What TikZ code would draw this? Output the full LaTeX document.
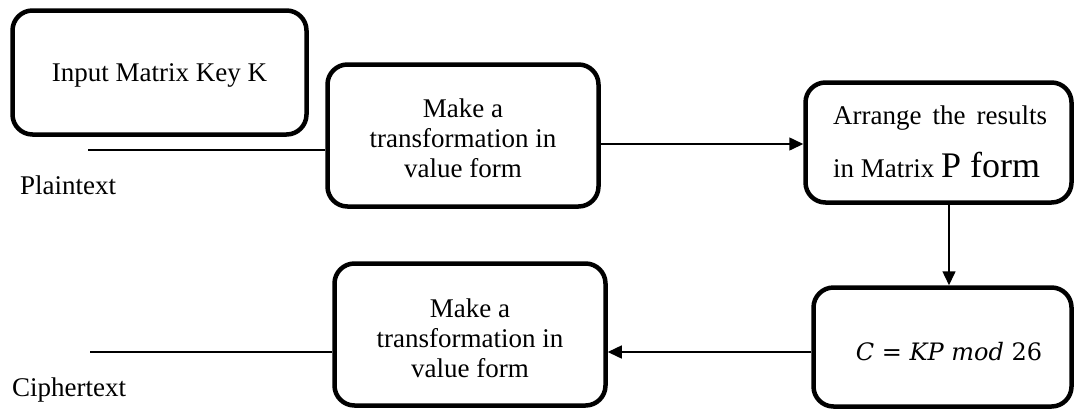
\documentclass[tikz,border=0pt]{standalone}
\usepackage{fontspec}
\setmainfont{Liberation Serif}
\newfontfamily\mathlike{DejaVu Serif}
\usetikzlibrary{arrows.meta}
\begin{document}
\begin{tikzpicture}[x=1pt,y=-1pt,
  box/.style={draw=black,line width=4.5pt,rounded corners=20pt,inner sep=0pt,align=center},
  conn/.style={line width=1.5pt},
  arr/.style={conn,-{Triangle[length=14pt,width=13pt]}},
  lbl/.style={anchor=base west,inner sep=0pt},
  every node/.append style={font=\fontsize{27}{30}\selectfont}]
\useasboundingbox (0,0) rectangle (1075,408);
\node[box,minimum width=294pt,minimum height=124pt] (b1) at (159.5,72.5) {};
\node at (159.5,75) {Input Matrix Key K};
\node[box,minimum width=271pt,minimum height=142pt] (b2) at (463,135.5) {};
\node[align=center] (t2) at (463,138) {Make a\\transformation in\\value form};
\node[box,minimum width=266pt,minimum height=120pt] (b3) at (938.5,142.5) {};
\node[align=left,anchor=north west,inner sep=0pt] (t3) at (833,106) {\makebox[214pt][s]{Arrange the results}\\[20pt]in Matrix {\fontsize{36}{36}\selectfont P form}};
\node[box,minimum width=258pt,minimum height=119pt] (b4) at (942.5,347) {};
\node (t4) at (949,352) {\mathlike\fontsize{24}{28}\selectfont\itshape C \upshape= \itshape KP mod \upshape26};
\node[box,minimum width=271pt,minimum height=142pt] (b5) at (470,334.5) {};
\node[align=center] (t5) at (470,338) {Make a\\transformation in\\value form};
\node[lbl] (plain) at (20,194) {Plaintext};
\node[lbl] (cipher) at (12,396) {Ciphertext};
\coordinate (pt) at (88,150);
\coordinate (ct) at (90,352);
\draw[conn] (pt) -- (pt -| b2.west);
\draw[arr] (b2.east |- 0,144) -- (b3.west |- 0,144);
\draw[arr] (b3.south -| 949,0) -- (b4.north -| 949,0);
\draw[arr] (b4.west |- 0,352) -- (b5.east |- 0,352);
\draw[conn] (ct) -- (ct -| b5.west);
\end{tikzpicture}
\end{document}
